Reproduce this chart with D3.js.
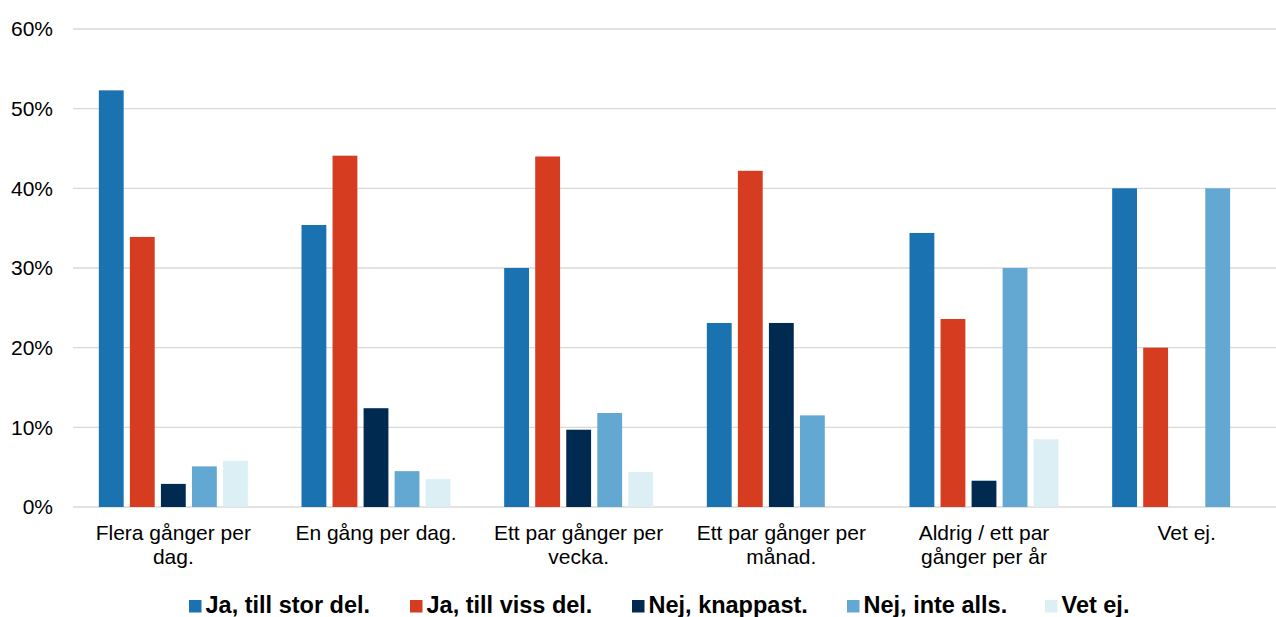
<!DOCTYPE html>
<html><head><meta charset="utf-8">
<script src="https://cdn.jsdelivr.net/npm/d3@7"></script>
<style>
body{margin:0;background:#fff;}
text{font-family:"Liberation Sans",Arial,sans-serif;}
</style></head>
<body>
<svg id="c" width="1276" height="617"></svg>
<script>
const categories = [
  ["Flera gånger per","dag."],
  ["En gång per dag."],
  ["Ett par gånger per","vecka."],
  ["Ett par gånger per","månad."],
  ["Aldrig / ett par","gånger per år"],
  ["Vet ej."]
];
const seriesNames = ["Ja, till stor del.","Ja, till viss del.","Nej, knappast.","Nej, inte alls.","Vet ej."];
const seriesColors = ["#1a72b0","#d63d20","#002a50","#62a8d3","#dbeff5"];
const jaStor   = [52.3, 35.4, 30.0, 23.1, 34.4, 40.0];
const jaViss   = [33.9, 44.1, 44.0, 42.2, 23.6, 20.0];
const nejKnapp = [2.9, 12.4, 9.7, 23.1, 3.3, 0];
const nejInte  = [5.1, 4.5, 11.8, 11.5, 30.0, 40.0];
const vetEj    = [5.8, 3.5, 4.4, 0, 8.5, 0];
const yTicks = [0,10,20,30,40,50,60];

const values = [jaStor, jaViss, nejKnapp, nejInte, vetEj];
const svg = d3.select("#c");
const y = d3.scaleLinear().domain([0,60]).range([507,29]);
const x0 = d3.scaleBand().domain(d3.range(categories.length)).range([72,1288]);
const groupW = 149;
const x1 = d3.scaleBand().domain(d3.range(seriesNames.length)).range([0,groupW]).paddingInner(0.2).paddingOuter(0);

// gridlines
svg.append("g").selectAll("line").data(yTicks).join("line")
  .attr("x1",73).attr("x2",1276)
  .attr("y1",d=>y(d)).attr("y2",d=>y(d))
  .attr("stroke","#d9d9d9").attr("stroke-width",1.3);

// y labels
const yAxis = d3.axisLeft(y).tickValues(yTicks).tickFormat(d=>d+"%").tickSize(0).tickPadding(0);
const ya = svg.append("g").attr("transform","translate(53,0)").call(yAxis);
ya.select(".domain").remove();
ya.selectAll("text").attr("font-size",21).attr("fill","#000").attr("font-family","Liberation Sans, Arial, sans-serif");

// bars
const groups = svg.append("g").selectAll("g").data(categories).join("g")
  .attr("transform",(d,i)=>`translate(${x0(i)+x0.bandwidth()/2-groupW/2},0)`);
groups.selectAll("rect").data((d,i)=>values.map((s,k)=>({k,v:s[i]}))).join("rect")
  .attr("x",d=>x1(d.k)).attr("width",x1.bandwidth())
  .attr("y",d=>y(d.v)).attr("height",d=>y(0)-y(d.v))
  .attr("fill",d=>seriesColors[d.k]);

// category labels
const lab = svg.append("g").selectAll("text").data(categories).join("text")
  .attr("x",(d,i)=>x0(i)+x0.bandwidth()/2).attr("y",540)
  .attr("text-anchor","middle").attr("font-size",21).attr("fill","#000");
lab.selectAll("tspan").data(d=>d).join("tspan")
  .attr("x",function(){return this.parentNode.getAttribute("x");})
  .attr("dy",(d,i)=>i?24:0).text(d=>d);

// legend
const legX = [189,410,632,847,1045];
const leg = svg.append("g").selectAll("g").data(seriesNames).join("g")
  .attr("transform",(d,i)=>`translate(${legX[i]},0)`);
leg.append("rect").attr("x",0).attr("y",600).attr("width",12.5).attr("height",12.5).attr("fill",(d,i)=>seriesColors[i]);
leg.append("text").attr("x",16.5).attr("y",613).attr("font-size",23.5).attr("font-weight","bold").attr("fill","#000").text(d=>d);
</script>
</body></html>
